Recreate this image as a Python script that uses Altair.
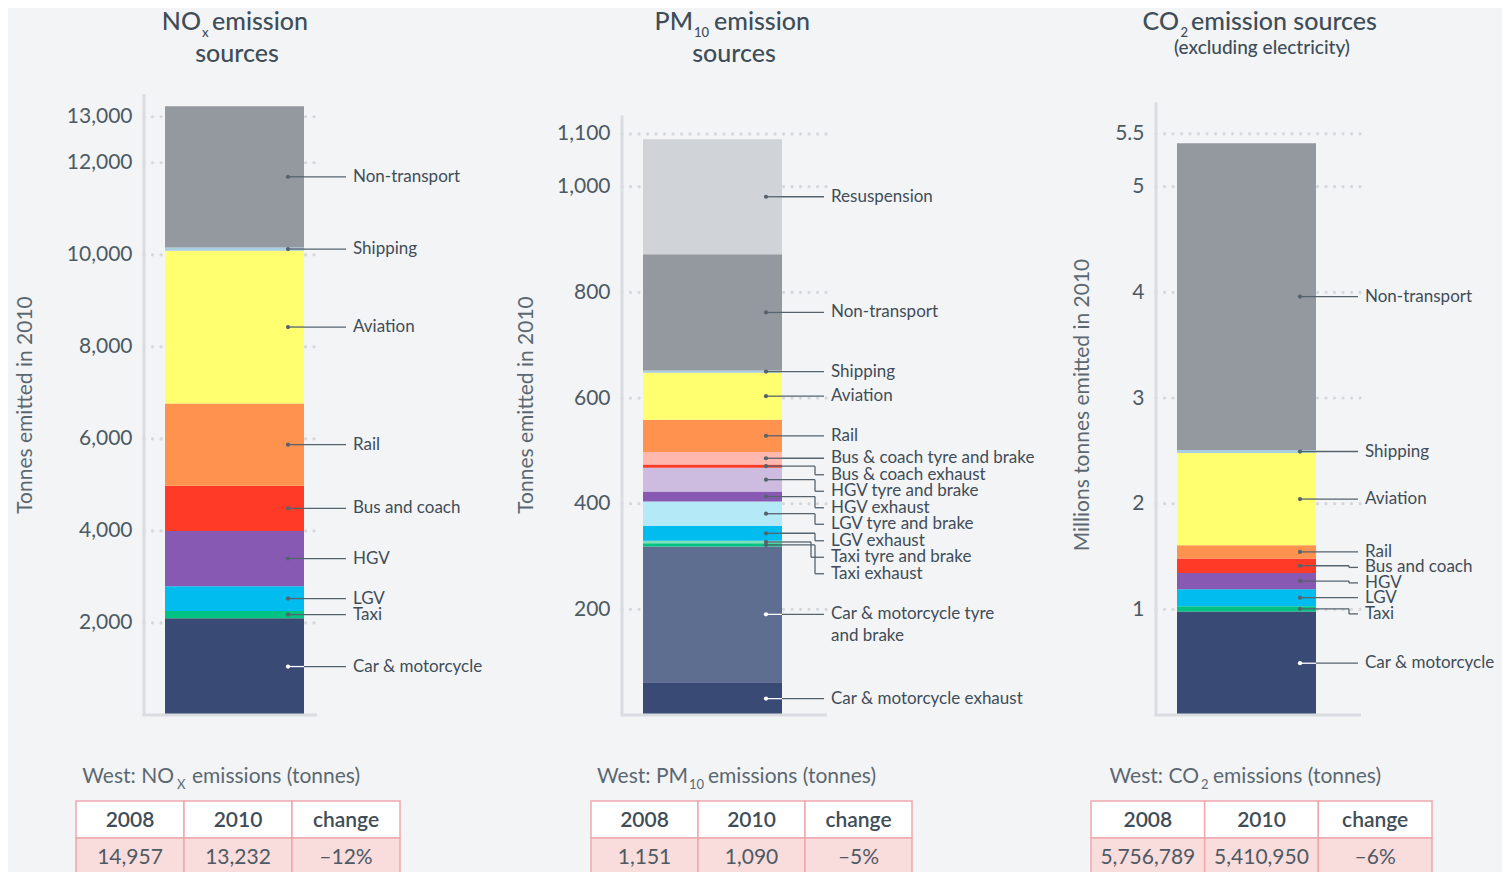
import itertools
import altair as alt
import pandas as pd

FONT = "Lato"
BG = "#f3f4f6"
INK = "#3f4d58"
AXIS_INK = "#4d5a64"
TITLE_INK = "#5b6871"
LINE = "#56636d"
GRID = "#d5d8dc"
AXLINE = "#d9dce0"

H = 621

# ---------------- data (stack order: bottom -> top) ----------------
nox_sources = ["Car & motorcycle", "Taxi", "LGV", "HGV", "Bus and coach",
               "Rail", "Aviation", "Shipping", "Non-transport"]
nox_tonnes = [2105, 155, 540, 1200, 980, 1790, 3320, 70, 3070]
nox_ticks = [2000, 4000, 6000, 8000, 10000, 12000, 13000]

pm_sources = ["Car & motorcycle exhaust", "Car & motorcycle tyre\nand brake",
              "Taxi exhaust", "Taxi tyre and brake", "LGV exhaust",
              "LGV tyre and brake", "HGV exhaust", "HGV tyre and brake",
              "Bus & coach exhaust", "Bus & coach tyre and brake", "Rail",
              "Aviation", "Shipping", "Non-transport", "Resuspension"]
pm_tonnes = [62, 257, 6, 5, 28, 46, 19, 45, 6, 24, 61, 89, 4, 220, 218]
pm_ticks = [200, 400, 600, 800, 1000, 1100]

co2_sources = ["Car & motorcycle", "Taxi", "LGV", "HGV", "Bus and coach",
               "Rail", "Aviation", "Shipping", "Non-transport"]
co2_mtonnes = [0.98, 0.05, 0.16, 0.155, 0.135, 0.127, 0.873, 0.027, 2.905]
co2_ticks = [1, 2, 3, 4, 5, 5.5]

table_head = ["2008", "2010", "change"]
nox_table = ["14,957", "13,232", "\u201312%"]
pm_table = ["1,151", "1,090", "\u20135%"]
co2_table = ["5,756,789", "5,410,950", "\u20136%"]

COLORS = {
    "Car & motorcycle": "#394b74",
    "Car & motorcycle exhaust": "#394b74",
    "Car & motorcycle tyre\nand brake": "#5e6e90",
    "Taxi": "#00c383",
    "Taxi exhaust": "#00c383",
    "Taxi tyre and brake": "#7ee0b8",
    "LGV": "#00bcef",
    "LGV exhaust": "#00bcef",
    "LGV tyre and brake": "#b4eaf8",
    "HGV": "#8759b3",
    "HGV exhaust": "#8759b3",
    "HGV tyre and brake": "#cdbbe0",
    "Bus and coach": "#ff3a27",
    "Bus & coach exhaust": "#ff3a27",
    "Bus & coach tyre and brake": "#ffb7ae",
    "Rail": "#ff924f",
    "Aviation": "#ffff70",
    "Shipping": "#a9cde2",
    "Non-transport": "#93999f",
    "Resuspension": "#d0d3d7",
}
DARK = {"Car & motorcycle", "Car & motorcycle exhaust", "Car & motorcycle tyre\nand brake"}

# layout constants (pixel offsets from each panel's y-axis line)
BAR_X, BAR_X2 = 21, 160
DOT_X, LINE_END, LABEL_X, ELBOW_X = 144, 202, 209, 193

ONE = pd.DataFrame({"k": [0]})


def txt(s, x, y, size, align="left", weight="normal", color=INK):
    return alt.Chart(ONE).mark_text(
        text=s, align=align, baseline="alphabetic", font=FONT,
        fontSize=size, fontWeight=weight, color=color
    ).encode(x=alt.value(x), y=alt.value(y))


def panel(names, values, ticks, fmt, ymax, axis_top, grid_end, width, gap_px,
          ytitle, title_x, title_pieces, table_vals, table_range, table_title):
    n = len(values)
    ppu = H / ymax
    ends = list(itertools.accumulate(values))
    starts = [0] + ends[:-1]
    mids = [(s + e) / 2 for s, e in zip(starts, ends)]

    # label placement, top-down, keep a minimum gap
    label_y = [None] * n
    prev, prev_lines = None, 1
    for i in reversed(range(n)):
        nl = names[i].count("\n") + 1
        ly = mids[i]
        if prev is not None:
            need = (gap_px + (nl - 1 + prev_lines - 1) * 11) / ppu
            ly = min(ly, prev - need)
        label_y[i] = ly
        prev, prev_lines = ly, nl

    tol = 1.0 / ppu
    pad = 2.0 / ppu
    segs, elbows = [], []
    for i in reversed(range(n)):
        inner = "#ffffff" if names[i] in DARK else LINE
        m = mids[i]
        segs.append(dict(x=DOT_X, x2=BAR_X2, y=m, y2=m, c=inner))
        if abs(label_y[i] - m) <= tol:
            label_y[i] = m
            segs.append(dict(x=BAR_X2, x2=LINE_END, y=m, y2=m, c=LINE))
        else:
            lo, hi = sorted((label_y[i], m))
            ex = ELBOW_X
            while any(abs(e - ex) < 0.1 and lo <= b + pad and hi >= a - pad for e, a, b in elbows):
                ex -= 4
            elbows.append((ex, lo, hi))
            segs += [dict(x=BAR_X2, x2=ex, y=m, y2=m, c=LINE),
                     dict(x=ex, x2=ex, y=m, y2=label_y[i], c=LINE),
                     dict(x=ex, x2=LINE_END, y=label_y[i], y2=label_y[i], c=LINE)]

    bars = pd.DataFrame({"name": names, "start": starts, "end": ends,
                         "color": [COLORS[s] for s in names],
                         "bx": BAR_X, "bx2": BAR_X2})
    dots = pd.DataFrame({"y": mids, "x": DOT_X,
                         "c": ["#ffffff" if s in DARK else LINE for s in names]})
    labels = pd.DataFrame({"name": names, "y": label_y, "x": LABEL_X})
    lines = pd.DataFrame(segs)
    grid = pd.DataFrame({"y": ticks, "x": 0, "x2": grid_end})
    frame = pd.DataFrame({"x": [0, -1.5], "x2": [0, grid_end], "y": [0, 0], "y2": [axis_top, 0]})

    xs = alt.Scale(domain=[0, width], range=[0, width], nice=False, zero=False)
    ys = alt.Scale(domain=[0, ymax], nice=False, zero=True)
    yaxis = alt.Axis(
        values=ticks, format=fmt, domain=False, ticks=False, grid=False,
        labelFont=FONT, labelFontSize=21, labelColor=AXIS_INK, labelPadding=12,
        title=ytitle, titleFont=FONT, titleFontSize=21, titleFontWeight="normal",
        titleColor=TITLE_INK, titleX=title_x, titleBaseline="middle")

    def X(f):
        return alt.X(f, type="quantitative", scale=xs, axis=None)

    def Y(f):
        return alt.Y(f, type="quantitative", scale=ys, axis=yaxis)

    grid_l = alt.Chart(grid).mark_rule(
        color=GRID, strokeWidth=3.2, strokeDash=[0.1, 8.4], strokeCap="round"
    ).encode(x=X("x"), x2="x2", y=Y("y"))

    frame_l = alt.Chart(frame).mark_rule(color=AXLINE, strokeWidth=3).encode(
        x=X("x"), x2="x2", y=Y("y"), y2="y2")

    bar_l = alt.Chart(bars).mark_bar(strokeWidth=0).encode(
        x=X("bx"), x2="bx2", y=Y("start"), y2="end:Q",
        color=alt.Color("color:N", scale=None))

    line_l = alt.Chart(lines).mark_rule(strokeWidth=1.3).encode(
        x=X("x"), x2="x2", y=Y("y"), y2="y2", color=alt.Color("c:N", scale=None))

    dot_l = alt.Chart(dots).mark_circle(size=18, opacity=1).encode(
        x=X("x"), y=Y("y"), color=alt.Color("c:N", scale=None))

    lab_l = alt.Chart(labels).mark_text(
        align="left", baseline="middle", font=FONT, fontSize=17, color=INK,
        lineBreak="\n", lineHeight=22
    ).encode(x=X("x"), y=Y("y"), text="name:N")

    layers = [grid_l, bar_l, frame_l, line_l, dot_l, lab_l]
    for (s, x, y, size, align) in title_pieces:
        layers.append(txt(s, x, y, size, align, weight=500, color=INK))
    for (s, x, y, size, align) in table_title:
        layers.append(txt(s, x, y, size, align, color=TITLE_INK))
    main = alt.layer(*layers)

    tab = pd.DataFrame({
        "col": [0, 1, 2, 0, 1, 2],
        "row": ["h"] * 3 + ["d"] * 3,
        "text": table_head + table_vals,
        "fill": ["#ffffff"] * 3 + ["#f9dcdc"] * 3,
    })
    txs = alt.Scale(domain=[0, 1, 2], range=table_range, paddingInner=0, paddingOuter=0)
    tys = alt.Scale(domain=["h", "d"], range=[707, 781], paddingInner=0, paddingOuter=0)
    rect = alt.Chart(tab).mark_rect(stroke="#f0a8ad", strokeWidth=1.5).encode(
        x=alt.X("col:O", scale=txs, axis=None),
        y=alt.Y("row:O", scale=tys, axis=None),
        fill=alt.Fill("fill:N", scale=None))
    th = alt.Chart(tab).transform_filter("datum.row == 'h'").mark_text(
        font=FONT, fontSize=21, fontWeight=600, color=INK, baseline="middle", dy=1
    ).encode(x=alt.X("col:O", scale=txs, axis=None),
             y=alt.Y("row:O", scale=tys, axis=None), text="text:N")
    td = alt.Chart(tab).transform_filter("datum.row == 'd'").mark_text(
        font=FONT, fontSize=21, color=AXIS_INK, baseline="middle", dy=1
    ).encode(x=alt.X("col:O", scale=txs, axis=None),
             y=alt.Y("row:O", scale=tys, axis=None), text="text:N")
    table = alt.layer(rect, th, td)

    return alt.layer(main, table).resolve_scale(x="independent", y="independent").properties(
        width=width, height=H)


p1 = panel(nox_sources, nox_tonnes, nox_ticks, ",d", 13494, 13494, 173, 478,
           16, "Tonnes emitted in 2010", -119,
           [("NO", 57, -64, 25, "right"), ("x", 58, -57, 13, "left"),
            ("emission", 68, -64, 25, "left"), ("sources", 93, -32, 25, "center")],
           nox_table, [-68, 256],
           [("West: NO", 30, 689, 21, "right"), ("X", 33, 695, 13, "left"),
            ("emissions (tonnes)", 48, 689, 21, "left")])

p2 = panel(pm_sources, pm_tonnes, pm_ticks, ",d", 1175.5, 1135, 205, 534,
           16.5, "Tonnes emitted in 2010", -96,
           [("PM", 71, -64, 25, "right"), ("10", 72, -57, 13, "left"),
            ("emission", 92, -64, 25, "left"), ("sources", 112, -32, 25, "center")],
           pm_table, [-31, 290],
           [("West: PM", 66, 689, 21, "right"), ("10", 67, 695, 13, "left"),
            ("emissions (tonnes)", 86, 689, 21, "left")])

p3 = panel(co2_sources, co2_mtonnes, co2_ticks, ".1~f", 5.877, 5.80, 205, 346,
           15.5, "Millions tonnes emitted in 2010", -74,
           [("CO", 23, -64, 25, "right"), ("2", 24.5, -57, 13, "left"),
            ("emission sources", 35, -64, 25, "left"),
            ("(excluding electricity)", 106, -40, 19, "center")],
           co2_table, [-65, 276],
           [("West: CO", 43, 689, 21, "right"), ("2", 45, 695, 13, "left"),
            ("emissions (tonnes)", 57, 689, 21, "left")])

chart = alt.hconcat(p1, p2, p3, spacing=0, bounds="flush").properties(
    background=BG,
    padding={"left": 6, "top": 2, "right": 0, "bottom": 0},
).configure_view(stroke=None)

chart.save("out.html", embed_options={"renderer": "svg", "actions": False})
